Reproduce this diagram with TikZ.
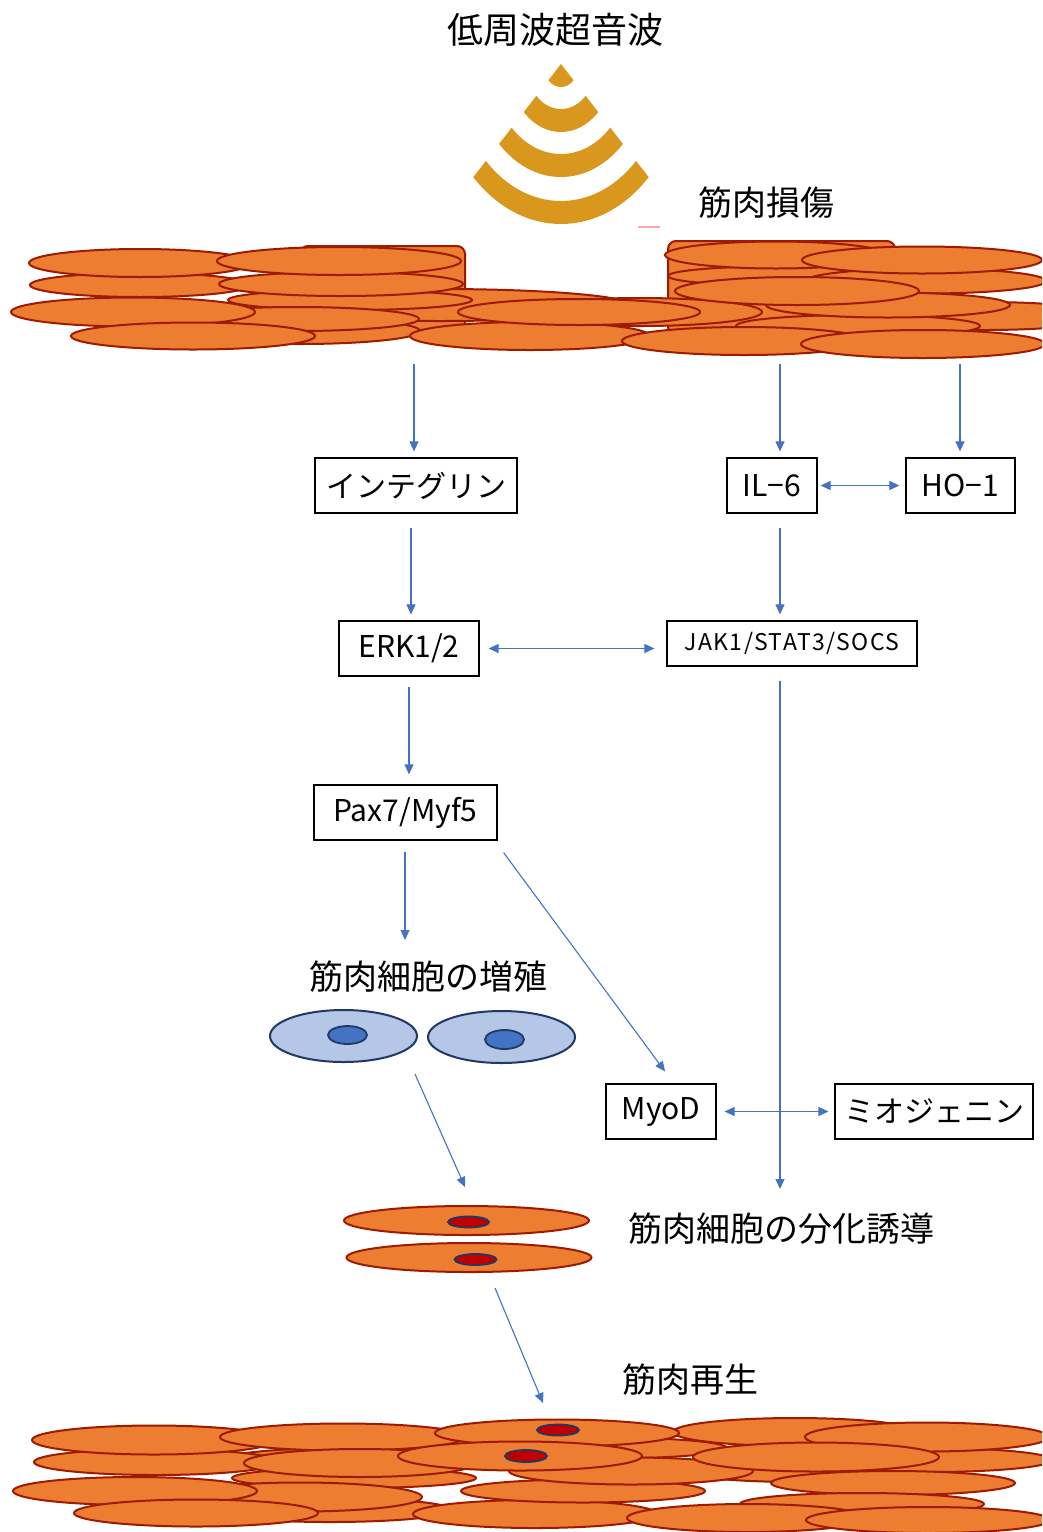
\documentclass[tikz,border=0pt]{standalone}
\usepackage{fontspec}
\setmainfont{Noto Sans CJK JP}
\usetikzlibrary{arrows.meta,shapes.geometric}

\definecolor{musclefill}{RGB}{237,125,49}
\definecolor{muscleline}{RGB}{158,26,0}
\definecolor{sonic}{RGB}{217,151,29}
\definecolor{flow}{RGB}{68,114,196}
\definecolor{cellfill}{RGB}{180,199,231}
\definecolor{cellline}{RGB}{31,56,100}
\definecolor{nucblue}{RGB}{68,114,196}
\definecolor{nucred}{RGB}{192,0,0}

% one muscle fibre: centre x, centre y, x radius, y radius
\newcommand\myofiber[4]{\draw[muscle] (#1,#2) ellipse [x radius=#3, y radius=#4];}

\begin{document}
\begin{tikzpicture}[x=1pt,y=-1pt,
  muscle/.style={fill=musclefill, draw=muscleline, line width=2pt},
  box/.style={draw=black, line width=1.2pt, rectangle, inner sep=0pt,
              minimum height=55pt, font=\fontsize{30}{36}\selectfont},
  lab/.style={inner sep=0pt, font=\fontsize{34}{40}\selectfont},
  arr/.style={draw=flow, line width=1.1pt, -{Triangle[length=10pt,width=9pt]}},
  biarr/.style={draw=flow, line width=1.1pt,
                {Triangle[length=10pt,width=9pt]}-{Triangle[length=10pt,width=9pt]}},
  stemcell/.style={ellipse, fill=cellfill, draw=cellline, line width=2pt,
                   inner sep=0pt, minimum width=147pt, minimum height=52pt},
  tube/.style={ellipse, fill=musclefill, draw=muscleline, line width=2pt,
               inner sep=0pt, minimum width=245pt, minimum height=29pt},
  nucB/.style={fill=nucblue, draw=cellline, line width=1.8pt},
  nucR/.style={fill=nucred, draw=cellline, line width=1.8pt}]

\useasboundingbox (0,0) rectangle (1042,1532);

% ---------- ultrasound emitter ----------
\node[inner sep=0pt, font=\fontsize{36}{40}\selectfont] (title) at (555,30) {低周波超音波};
\begin{scope}[shift={(561,64)}, xscale=0.775]
  \fill[sonic] (0,0) -- (45:23) arc[start angle=45, end angle=135, radius=23] -- cycle;
  \foreach \ri/\ro in {45/68, 90/113, 137/160} {
    \fill[sonic] (45:\ro) arc[start angle=45, end angle=135, radius=\ro]
      -- (135:\ri) arc[start angle=135, end angle=45, radius=\ri] -- cycle;
  }
\end{scope}
\draw[red!35!white, line width=1.2pt] (638,227) -- (660,227);

\node[lab] (damage) at (766,203) {筋肉損傷};

% ---------- damaged muscle tissue ----------
\begin{scope}
\clip (0,0) rectangle (1042,1532);
\draw[muscle, rounded corners=8pt] (300,246) rectangle (465,335);
\draw[muscle, rounded corners=8pt] (668,241) rectangle (895,335);
% back layer
\myofiber{440}{305}{190}{16}
\myofiber{640}{312}{122}{14}
\myofiber{300}{331}{120}{13}
\myofiber{985}{316}{122}{14}
% left stack
\myofiber{140}{285}{110}{12}
\myofiber{140}{263}{111}{14}
\myofiber{350}{300}{122}{10}
\myofiber{341}{284}{122}{12}
\myofiber{339}{261}{122}{14}
\myofiber{297}{319}{122}{12}
\myofiber{133}{312}{122}{14.5}
\myofiber{193}{336}{122}{13.5}
\myofiber{530}{336}{120}{14}
\myofiber{579}{312}{121}{13}
% right stack
\myofiber{790}{276}{122}{10}
\myofiber{776}{255}{111}{13.5}
\myofiber{926}{281}{120}{12.5}
\myofiber{922}{260}{120}{13.5}
\myofiber{858}{326}{122}{11}
\myofiber{888}{305}{122}{12.5}
\myofiber{797}{291}{122}{14}
\myofiber{744}{341}{122}{14}
\myofiber{923}{344}{122}{14}
\end{scope}
\coordinate (dmgL) at (414,364);
\coordinate (dmgM) at (780,364);
\coordinate (dmgR) at (960,364);

% ---------- signalling boxes ----------
\node[box, minimum width=202pt] (intg) at (416,485.5) {インテグリン};
\node[box, minimum width=90pt]  (il6)  at (772,485.5) {IL−6};
\node[box, minimum width=109pt] (ho1)  at (960.5,485.5) {HO−1};
\node[box, minimum width=140pt] (erk)  at (409,648.5) {ERK1/2};
\node[box, minimum width=250pt, minimum height=45pt,
      font=\fontsize{23}{28}\selectfont\addfontfeature{LetterSpace=6}]
      (jak) at (792,643.5) {JAK1/STAT3/SOCS};
\node[box, minimum width=183pt] (pax)  at (405.5,812.5) {Pax7/Myf5};
\node[box, minimum width=110pt] (myod) at (661,1111.5) {MyoD};
\node[box, minimum width=198pt] (myog) at (934,1111.5) {ミオジェニン};

% ---------- proliferating satellite cells ----------
\node[lab] (prolif) at (428,977) {筋肉細胞の増殖};
\node[stemcell] (cellA) at (343.5,1036) {};
\node[stemcell] (cellB) at (501.5,1037) {};
\draw[nucB] (347.5,1035) ellipse [x radius=19.5, y radius=9];
\draw[nucB] (504.5,1039.5) ellipse [x radius=19.5, y radius=9.5];

% ---------- differentiating myotubes ----------
\node[lab] (diff) at (781,1229) {筋肉細胞の分化誘導};
\node[tube] (tubeA) at (466.5,1220.5) {};
\node[tube] (tubeB) at (469,1257.5) {};
\draw[nucR] (468.5,1222) ellipse [x radius=20.5, y radius=5.5];
\draw[nucR] (475.5,1259.5) ellipse [x radius=21, y radius=5.5];

% ---------- regenerated muscle ----------
\node[lab] (regen) at (690,1380) {筋肉再生};
\coordinate (regenIn) at (543,1403);
\begin{scope}
\clip (0,0) rectangle (1042,1532);
\myofiber{345}{1460}{122}{12}
\myofiber{354}{1478}{122}{10}
\myofiber{330}{1510}{122}{12}
\myofiber{800}{1470}{122}{12}
\myofiber{930}{1460}{122}{12}
\myofiber{605}{1448}{122}{10.5}
\myofiber{795}{1432}{122}{14}
\myofiber{156}{1462}{122}{13}
\myofiber{154}{1440}{122}{14.5}
\myofiber{343}{1437}{123}{13.5}
\myofiber{300}{1497}{122}{14.5}
\myofiber{135}{1491}{122}{14}
\myofiber{196}{1513}{122}{13.5}
\myofiber{535}{1514}{122}{14}
\myofiber{583}{1491}{122}{11.5}
\myofiber{631}{1471}{122}{13.5}
\myofiber{360}{1463}{116}{14}
\myofiber{557}{1433}{122}{13.5}
\draw[nucR] (558,1430) ellipse [x radius=21, y radius=5.5];
\myofiber{520}{1456}{122}{14.5}
\draw[nucR] (526,1456) ellipse [x radius=21, y radius=6];
\myofiber{927}{1437}{122}{14.5}
\myofiber{893}{1483}{122}{12}
\myofiber{816}{1457}{123}{14.5}
\myofiber{862}{1504}{122}{11}
\myofiber{747}{1518}{120}{14}
\myofiber{928}{1520}{122}{13}
\end{scope}

% ---------- connectors ----------
\draw[arr, shorten >=6pt] (dmgL) -- (dmgL |- intg.north);
\draw[arr, shorten >=6pt] (dmgM) -- (dmgM |- il6.north);
\draw[arr, shorten >=6pt] (dmgR) -- (dmgR |- ho1.north);
\draw[biarr, shorten <=3pt, shorten >=6pt] (il6.east) -- (ho1.west);
\draw[arr, shorten <=14pt, shorten >=6pt] ([xshift=-5pt]intg.south) -- ([xshift=2pt]erk.north);
\draw[arr, shorten <=14pt, shorten >=6pt] ([xshift=8pt]il6.south) -- ([xshift=-12pt]jak.north);
\draw[biarr, shorten <=9pt, shorten >=12pt] (erk.east) -- (erk.east -| jak.west);
\draw[arr, shorten <=10pt, shorten >=10pt] (erk.south) -- ([xshift=3.5pt]pax.north);
\draw[arr, shorten <=14pt, shorten >=24pt] ([xshift=-12pt]jak.south) -- ([xshift=-1pt]diff.north);
\draw[arr, shorten <=11pt, shorten >=21pt] ([xshift=-0.5pt]pax.south) -- ([xshift=-23pt]prolif.north);
\draw[arr] ([shift={(6,12)}]pax.south east) -- ([shift={(4,-12)}]myod.north);
\draw[biarr, shorten <=8pt, shorten >=6pt] (myod.east) -- (myog.west);
\draw[arr] ([shift={(71.5,11)}]cellA.south) -- ([shift={(-1.5,-18)}]tubeA.north);
\draw[arr] ([shift={(26,15)}]tubeB.south) -- (regenIn);
\end{tikzpicture}
\end{document}
